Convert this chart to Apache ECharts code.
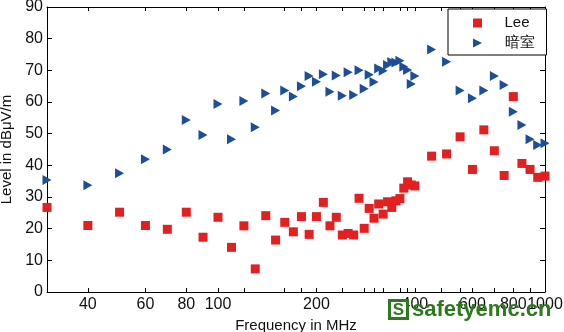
<!DOCTYPE html>
<html>
<head>
<meta charset="utf-8">
<script src="https://cdn.jsdelivr.net/npm/echarts@6/dist/echarts.min.js"></script>
<style>
  html, body { margin: 0; padding: 0; background: #ffffff; }
  #chart { width: 564px; height: 332px; }
</style>
</head>
<body>
<div id="chart"></div>
<script>
// Measurement frequencies (MHz)
const freqMHz = [
  30, 40, 50, 60, 70, 80, 90, 100, 110, 120,
  130, 140, 150, 160, 170, 180, 190, 200, 210, 220,
  230, 240, 250, 260, 270, 280, 290, 300, 310, 320,
  330, 340, 350, 360, 370, 380, 390, 400, 450, 500,
  550, 600, 650, 700, 750, 800, 850, 900, 950, 1000
];

// Field level, Lee method (dBμV/m)
const leeLevel = [
  26.7, 21.0, 25.2, 21.0, 19.8, 25.2, 17.3, 23.6, 14.1, 20.9,
  7.3, 24.1, 16.4, 22.0, 19.0, 23.8, 18.2, 23.8, 28.3, 20.9,
  23.6, 18.0, 18.5, 18.0, 29.6, 20.1, 26.4, 23.3, 27.8, 24.6,
  28.5, 26.7, 28.8, 29.5, 32.8, 34.8, 33.8, 33.5, 42.9, 43.6,
  49.0, 38.7, 51.2, 44.6, 36.8, 61.7, 40.6, 38.7, 36.2, 36.6
];

// Field level, anechoic chamber (dBμV/m)
const chamberLevel = [
  35.4, 33.7, 37.5, 41.9, 45.0, 54.3, 49.6, 59.4, 48.2, 60.3,
  52.0, 62.7, 57.3, 63.6, 61.7, 65.0, 68.2, 66.4, 68.8, 63.2,
  68.4, 62.0, 69.4, 62.2, 70.0, 64.2, 68.6, 66.3, 70.6, 69.9,
  71.7, 72.6, 72.5, 73.0, 71.1, 70.1, 65.7, 68.2, 76.6, 72.7,
  63.6, 61.2, 63.6, 68.2, 65.4, 56.9, 52.7, 48.2, 46.4, 47.0
];

// Frequency axis labels and tick marks
const freqLabels = [40, 60, 80, 100, 200, 400, 600, 800, 1000];
const freqMinorTicks = [120, 160, 180, 240, 280, 300, 320, 360, 380, 480, 550, 700, 900];
const freqMin = 30;
const freqMax = 1000;

const FONT = 'Liberation Sans, Arial, sans-serif';
const RED = '#e3201f';
const BLUE = '#1c4e9c';
const GREEN = '#2c7a1c';

const SQUARE = 'path://M0,0L10,0L10,10L0,10Z';
const RIGHT_TRIANGLE = 'path://M0,0L10,5L0,10Z';

const lg = Math.log10;
const tickPositions = freqLabels.concat(freqMinorTicks).sort((a, b) => a - b).map(lg);
const labelPositions = freqLabels.map(lg);

function freqScaleAxis(position, showLabels, extra) {
  return Object.assign({
    type: 'value',
    position: position,
    min: lg(freqMin),
    max: lg(freqMax),
    axisLine: { show: true, onZero: false, lineStyle: { color: '#000', width: 1 } },
    axisTick: { show: true, inside: true, length: 4, customValues: tickPositions,
                lineStyle: { color: '#000', width: 1 } },
    axisLabel: {
      show: showLabels,
      customValues: labelPositions,
      margin: 5,
      color: '#111',
      fontFamily: FONT,
      fontSize: 16,
      formatter: v => String(Math.round(Math.pow(10, v)))
    },
    splitLine: { show: false }
  }, extra || {});
}

function levelAxis(position, showLabels, extra) {
  return Object.assign({
    type: 'value',
    position: position,
    min: 0,
    max: 90,
    interval: 10,
    axisLine: { show: true, onZero: false, lineStyle: { color: '#000', width: 1 } },
    axisTick: { show: true, inside: true, length: 5, lineStyle: { color: '#000', width: 1 } },
    axisLabel: { show: showLabels, margin: 4, color: '#111', fontFamily: FONT, fontSize: 16 },
    splitLine: { show: false }
  }, extra || {});
}

const chart = echarts.init(document.getElementById('chart'), null, { renderer: 'canvas' });

chart.setOption({
  animation: false,
  backgroundColor: '#ffffff',
  textStyle: { fontFamily: FONT },
  grid: { left: 47, right: 19, top: 7, bottom: 40, containLabel: false, outerBoundsMode: 'none' },
  xAxis: [
    // logarithmic frequency scale used by the data
    { type: 'log', logBase: 10, min: freqMin, max: freqMax, show: false },
    freqScaleAxis('bottom', true, {
      name: 'Frequency in MHz',
      nameLocation: 'middle',
      nameGap: 21,
      nameTextStyle: { color: '#111', fontFamily: FONT, fontSize: 15 }
    }),
    freqScaleAxis('top', false)
  ],
  yAxis: [
    levelAxis('left', true, {
      name: 'Level in dBμV/m',
      nameLocation: 'middle',
      nameGap: 27,
      nameRotate: 90,
      nameTextStyle: { color: '#111', fontFamily: FONT, fontSize: 15 }
    }),
    levelAxis('right', false)
  ],
  legend: {
    orient: 'vertical',
    left: 448,
    top: 9,
    padding: [4, 12, 2, 25],
    itemGap: 0,
    itemWidth: 44,
    itemHeight: 9,
    symbolKeepAspect: true,
    backgroundColor: '#ffffff',
    borderColor: '#000',
    borderWidth: 1,
    borderRadius: 0,
    textStyle: { color: '#111', fontFamily: FONT, fontSize: 15, lineHeight: 20 },
    data: ['Lee', '暗室']
  },
  series: [
    {
      name: 'Lee',
      type: 'scatter',
      xAxisIndex: 0,
      yAxisIndex: 0,
      symbol: SQUARE,
      symbolSize: 9,
      itemStyle: { color: RED, opacity: 1 },
      data: freqMHz.map((f, i) => [f, leeLevel[i]]),
      z: 3
    },
    {
      name: '暗室',
      type: 'scatter',
      xAxisIndex: 0,
      yAxisIndex: 0,
      symbol: RIGHT_TRIANGLE,
      symbolSize: [9, 10],
      itemStyle: { color: BLUE, opacity: 1 },
      data: freqMHz.map((f, i) => [f, chamberLevel[i]]),
      z: 3
    }
  ],
  graphic: [
    { type: 'rect', left: 388, top: 299, z: 100, shape: { width: 21, height: 21 }, style: { fill: GREEN } },
    { type: 'rect', left: 391, top: 302, z: 101, shape: { width: 15, height: 15 }, style: { fill: '#ffffff' } },
    { type: 'text', x: 398.5, y: 310.5, z: 102,
      style: { text: 'S', fill: GREEN, fontFamily: FONT, fontWeight: 'bold', fontSize: 17,
               align: 'center', verticalAlign: 'middle' } },
    { type: 'text', x: 412, y: 310, z: 102,
      style: { text: 'safetyemc.cn', fill: GREEN, fontFamily: FONT, fontWeight: 'bold', fontSize: 22,
               align: 'left', verticalAlign: 'middle' } }
  ]
});
</script>
</body>
</html>
